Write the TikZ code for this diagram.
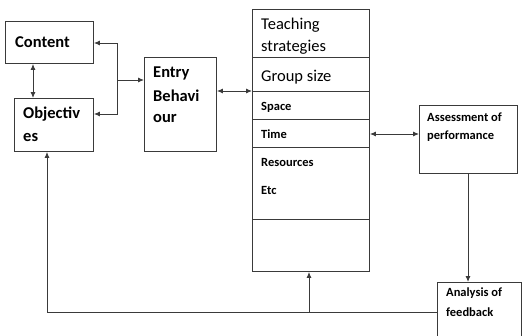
\documentclass[tikz,border=0pt]{standalone}
\usepackage{fontspec}
\setmainfont{Carlito}
\usetikzlibrary{arrows.meta,calc}
\definecolor{ln}{HTML}{3A3A3A}
\tikzset{
  x=1pt,y=-1pt,
  box/.style={draw=ln,line width=0.9pt,rectangle,anchor=north west,inner sep=0pt},
  conn/.style={draw=ln,line width=0.9pt},
  tip/.style={-{Latex[length=6pt,width=5pt]}},
  tips/.style={{Latex[length=6pt,width=5pt]}-{Latex[length=6pt,width=5pt]}},
  big/.style={anchor=west,inner sep=0pt,font=\fontsize{16.5}{20}\selectfont},
  bigb/.style={anchor=west,inner sep=0pt,font=\fontsize{16.5}{20}\selectfont\bfseries},
  small/.style={anchor=west,inner sep=0pt,font=\fontsize{12.5}{15}\selectfont\bfseries},
}
\begin{document}
\begin{tikzpicture}
\useasboundingbox (0,0) rectangle (525,335);
% boxes
\node[box,minimum width=88pt,minimum height=42pt] (content) at (5,21) {};
\node[box,minimum width=79pt,minimum height=53pt] (objectives) at (14,98) {};
\node[box,minimum width=72pt,minimum height=94pt] (entry) at (144,57) {};
\node[box,minimum width=117pt,minimum height=262pt] (teach) at (252,9) {};
\node[box,minimum width=98pt,minimum height=68pt] (assess) at (419,105) {};
\node[box,minimum width=84pt,minimum height=70pt] (analysis) at (437,282) {};
% dividers in the teaching column
\foreach \yy in {57,91,119,147,219}
  \draw[conn] (teach.west |- 0,\yy) -- (teach.east |- 0,\yy);
% texts
\node[bigb] (tcontent) at (15,42) {Content};
\node[bigb] (tobj1) at (23,114) {Objectiv};
\node[bigb] (tobj2) at (23,137) {es};
\node[bigb] (tent1) at (153,73) {Entry};
\node[bigb] (tent2) at (153,96) {Behavi};
\node[bigb] (tent3) at (153,118) {our};
\node[big] (tteach1) at (261,25) {Teaching};
\node[big] (tteach2) at (261,47) {strategies};
\node[big] (tgroup) at (261,77) {Group size};
\node[small] (tspace) at (261,107) {Space};
\node[small] (ttime) at (261,134) {Time};
\node[small] (tres) at (261,162) {Resources};
\node[small] (tetc) at (261,190) {Etc};
\node[small] (tass1) at (427,117) {Assessment of};
\node[small] (tass2) at (427,136) {performance};
\node[small] (tana1) at (446,293) {Analysis of};
\node[small] (tana2) at (446,312) {feedback};
% connectors
\coordinate (cx) at (33,0);
\coordinate (j) at (117,80);
\coordinate (jt) at (117,43);
\coordinate (jb) at (117,114);
\coordinate (fb) at (47,312);
\coordinate (fu) at (309,312);
\draw[conn,tips] (content.south -| cx) -- (objectives.north -| cx);
\draw[conn,tip] (j) -- (entry.west |- j);
\draw[conn,tip] (jb) -- (jt) -- (content.east |- jt);
\draw[conn,tip] (jt) -- (jb) -- (objectives.east |- jb);
\draw[conn,tips] (entry.east |- 0,91) -- (teach.west |- 0,91);
\draw[conn,tips] (teach.east |- 0,134) -- (assess.west |- 0,134);
\draw[conn,tip] (assess.south -| 468,0) -- (analysis.north -| 468,0);
\draw[conn,tip] (analysis.west |- fb) -- (fb) -- (objectives.south -| fb);
\draw[conn,tip] (fu) -- (teach.south -| fu);
\end{tikzpicture}
\end{document}
